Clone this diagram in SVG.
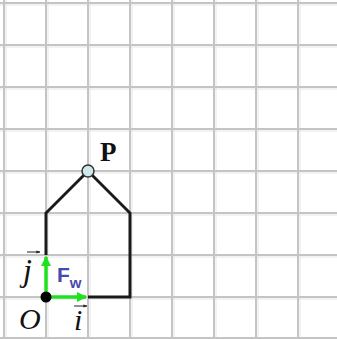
<svg xmlns="http://www.w3.org/2000/svg" width="337" height="339" viewBox="0 0 337 339">
<style>
.grid{stroke:#c4c4c4;stroke-width:2;fill:none}
.grid2{stroke:#e6e6e6;stroke-width:1;fill:none}
.house{stroke:#1a1a1a;stroke-width:3;fill:none;stroke-linejoin:miter}
.vec{stroke:#1ee21e;stroke-width:3.5;fill:none}
.lbl{font-family:"Liberation Serif",serif;font-style:italic;fill:#111}
.small{stroke:#222;stroke-width:1;fill:none}
</style>
<defs>
<marker id="ga" viewBox="0 0 10 10" refX="9" refY="5" markerWidth="3" markerHeight="3" orient="auto" markerUnits="strokeWidth">
<path d="M0,0 L10,5 L0,10 z" fill="#1ee21e"/>
</marker>
<marker id="sa" viewBox="0 0 10 10" refX="9" refY="5" markerWidth="4" markerHeight="4" orient="auto" markerUnits="strokeWidth">
<path d="M0,1 L10,5 L0,9 z" fill="#222"/>
</marker>
</defs>
<rect width="337" height="339" fill="#fff"/>
<g id="grid">
<path class="grid2" d="M6,0V339 M48,0V339 M90,0V339 M132,0V339 M174,0V339 M216,0V339 M258,0V339 M300,0V339 M0,5H337 M0,47H337 M0,89H337 M0,131H337 M0,173H337 M0,215H337 M0,257H337 M0,299H337"/>
<path class="grid" d="M4,0V339 M46,0V339 M88,0V339 M130,0V339 M172,0V339 M214,0V339 M256,0V339 M298,0V339 M0,3H337 M0,45H337 M0,87H337 M0,129H337 M0,171H337 M0,213H337 M0,255H337 M0,297H337 M0,338H337"/>
</g>
<g id="connectors">
<path class="house" d="M88,297 H130 V213 L88,171 L46,213 V255"/>
<line class="vec" x1="46" y1="297" x2="86" y2="297" marker-end="url(#ga)"/>
<line class="vec" x1="46" y1="297" x2="46" y2="257" marker-end="url(#ga)"/>
</g>
<g id="P">
<circle cx="88" cy="171" r="6" fill="#cfe9ea" stroke="#333" stroke-width="1.5"/>
<text x="100" y="161" font-family="Liberation Serif,serif" font-weight="bold" font-size="27" fill="#111">P</text>
</g>
<g id="O">
<circle cx="46" cy="297" r="5.5" fill="#000"/>
<text class="lbl" x="19" y="329" font-size="30">O</text>
</g>
<g id="i-label">
<text class="lbl" x="74" y="330" font-size="30">i</text>
<line class="small" x1="74" y1="306" x2="87" y2="306" marker-end="url(#sa)"/>
</g>
<g id="j-label">
<text class="lbl" x="23" y="281" font-size="32">j</text>
<line class="small" x1="27" y1="252" x2="40" y2="252" marker-end="url(#sa)"/>
</g>
<g id="Fw">
<text x="57" y="282" font-family="Liberation Sans,sans-serif" font-weight="bold" font-size="21" fill="#4848b0">F<tspan font-size="15" dy="6">w</tspan></text>
</g>
</svg>
